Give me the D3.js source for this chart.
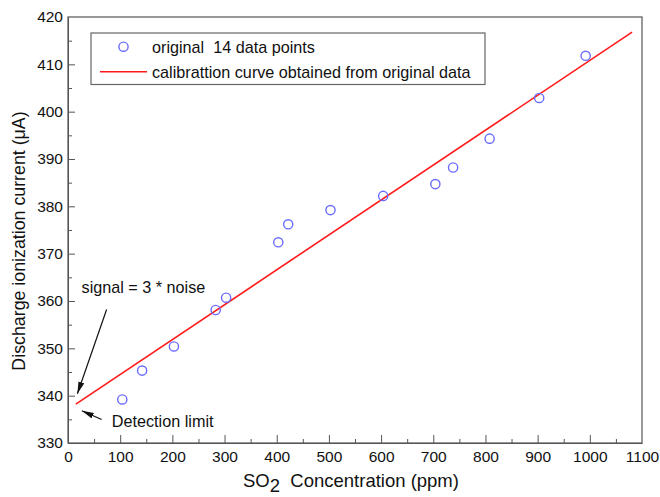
<!DOCTYPE html>
<html>
<head>
<meta charset="utf-8">
<script src="https://cdn.jsdelivr.net/npm/d3@7"></script>
<style>
  body { margin: 0; background: #fff; }
  svg text { font-family: Arial, "Liberation Sans", sans-serif; fill: #111; white-space: pre; }
  .axis path, .axis line { stroke: #555; }
</style>
</head>
<body>
<svg id="chart" width="660" height="497"></svg>
<script>
// ---------------- data ----------------
const concentration = [104, 142, 203, 283, 303, 403, 422, 503, 604, 704, 738, 808, 903, 992];
const current = [339.2, 345.3, 350.4, 358.1, 360.7, 372.4, 376.2, 379.2, 382.2, 384.7, 388.2, 394.3, 402.9, 411.8];

// calibration line end points (ppm, µA)
const fitX = [15, 1081];
const fitY = [338.2, 416.8];

const xTicks = [0, 100, 200, 300, 400, 500, 600, 700, 800, 900, 1000, 1100];
const yTicks = [330, 340, 350, 360, 370, 380, 390, 400, 410, 420];

const legendLabels = ['original  14 data points', 'calibrattion curve obtained from original data'];

// annotations: [text, textX, textY, arrowFromX, arrowFromY, arrowToX, arrowToY]
const notes = [
  ['signal = 3 * noise', 26, 361.6, 74, 358.2, 18, 340.4],
  ['Detection limit', 84, 333.4, 64.5, 334.95, 26.5, 336.8]
];

// ---------------- setup ----------------
const svg = d3.select('#chart');
const margin = { top: 17, right: 18, bottom: 54, left: 68 };
const width = 660 - margin.left - margin.right;
const height = 497 - margin.top - margin.bottom;

const x = d3.scaleLinear().domain([0, 1100]).range([0, width]);
const y = d3.scaleLinear().domain([330, 420]).range([height, 0]);

const g = svg.append('g').attr('transform', `translate(${margin.left},${margin.top})`);

// minor ticks
const xMinor = d3.range(50, 1100, 100);
const yMinor = d3.range(335, 420, 10);

g.append('g')
  .attr('class', 'axis')
  .attr('transform', `translate(0,${height})`)
  .call(d3.axisBottom(x).tickValues(xMinor).tickSizeInner(-4).tickSizeOuter(0).tickFormat(''))
  .select('.domain').remove();

g.append('g')
  .attr('class', 'axis')
  .call(d3.axisLeft(y).tickValues(yMinor).tickSizeInner(-4).tickSizeOuter(0).tickFormat(''))
  .select('.domain').remove();

// major axes
const xAxisG = g.append('g')
  .attr('class', 'axis')
  .attr('transform', `translate(0,${height})`)
  .call(d3.axisBottom(x).tickValues(xTicks).tickFormat(d3.format('d'))
    .tickSizeInner(-8).tickSizeOuter(0).tickPadding(7.5));
xAxisG.selectAll('text').style('font-size', '15.5px').attr('fill', '#111');

const yAxisG = g.append('g')
  .attr('class', 'axis')
  .call(d3.axisLeft(y).tickValues(yTicks).tickFormat(d3.format('d'))
    .tickSizeInner(-7).tickSizeOuter(0).tickPadding(5));
yAxisG.selectAll('text').style('font-size', '15.5px').attr('fill', '#111');
yAxisG.selectAll('.tick line').filter(d => d === 330 || d === 420).remove();
xAxisG.selectAll('.tick line').filter(d => d === 0 || d === 1100).remove();

// frame top/right
g.append('rect')
  .attr('width', width).attr('height', height)
  .attr('fill', 'none').attr('stroke', '#555').attr('stroke-width', 1.2);

// ---------------- marks ----------------
g.append('line')
  .attr('x1', x(fitX[0])).attr('y1', y(fitY[0]))
  .attr('x2', x(fitX[1])).attr('y2', y(fitY[1]))
  .attr('stroke', '#ff1a1a').attr('stroke-width', 1.6);

g.selectAll('.pt')
  .data(concentration)
  .enter()
  .append('circle')
  .attr('class', 'pt')
  .attr('cx', d => x(d))
  .attr('cy', (d, i) => y(current[i]))
  .attr('r', 4.6)
  .attr('fill', 'none')
  .attr('stroke', '#6b6bff')
  .attr('stroke-width', 1.4);

// ---------------- legend ----------------
const lg = svg.append('g').attr('transform', 'translate(91,33)');
lg.append('rect')
  .attr('width', 394).attr('height', 51.5)
  .attr('fill', '#fff').attr('stroke', '#666').attr('stroke-width', 1.2);
lg.append('circle')
  .attr('cx', 32.5).attr('cy', 13.7).attr('r', 4.6)
  .attr('fill', 'none').attr('stroke', '#6b6bff').attr('stroke-width', 1.4);
lg.append('line')
  .attr('x1', 9).attr('x2', 56).attr('y1', 38.7).attr('y2', 38.7)
  .attr('stroke', '#ff1a1a').attr('stroke-width', 1.6);
lg.selectAll('.lgtext')
  .data(legendLabels)
  .enter()
  .append('text')
  .attr('class', 'lgtext')
  .attr('x', 61)
  .attr('y', (d, i) => 20 + i * 24.5)
  .style('font-size', '16.2px')
  .text(d => d);

// ---------------- annotations ----------------
svg.append('defs').append('marker')
  .attr('id', 'arrow')
  .attr('viewBox', '0 0 12 6')
  .attr('refX', 12).attr('refY', 3)
  .attr('markerWidth', 12).attr('markerHeight', 6)
  .attr('markerUnits', 'userSpaceOnUse')
  .attr('orient', 'auto')
  .append('path')
  .attr('d', 'M0,0 L12,3 L0,6 Z')
  .attr('fill', '#111');

notes.forEach(n => {
  g.append('text')
    .attr('x', x(n[1])).attr('y', y(n[2]))
    .style('font-size', '16.2px')
    .text(n[0]);
  g.append('line')
    .attr('x1', x(n[3])).attr('y1', y(n[4]))
    .attr('x2', x(n[5])).attr('y2', y(n[6]))
    .attr('stroke', '#111').attr('stroke-width', 1.2)
    .attr('marker-end', 'url(#arrow)');
});

// ---------------- axis titles ----------------
const xt = svg.append('text')
  .attr('x', 243).attr('y', 487)
  .style('font-size', '18.5px');
xt.append('tspan').text('SO');
xt.append('tspan').attr('dy', 5).text('2');
xt.append('tspan').attr('dy', -5).text('  Concentration (ppm)');

svg.append('text')
  .attr('transform', 'translate(25,241) rotate(-90)')
  .attr('text-anchor', 'middle')
  .style('font-size', '17.8px')
  .text('Discharge ionization current (\u03bcA)');
</script>
</body>
</html>
